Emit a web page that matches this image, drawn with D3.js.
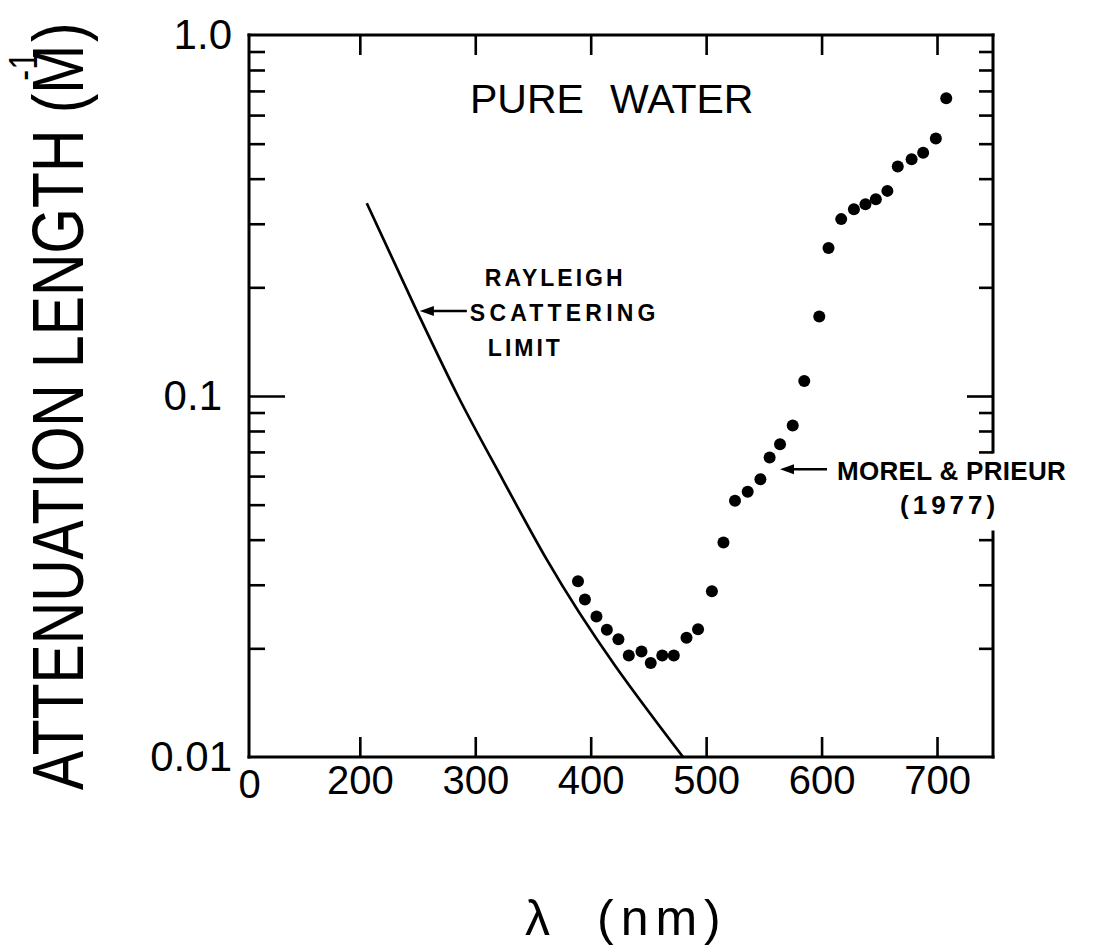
<!DOCTYPE html>
<html><head><meta charset="utf-8">
<script src="https://cdn.jsdelivr.net/npm/d3@7"></script>
<style>
html,body{margin:0;padding:0;background:#fff;}
svg{display:block;}
</style></head><body>
<svg id="chart" width="1101" height="946"></svg>
<script>
// ---- data ----
const morelWavelength = [389,395,405,414,424,433,444,452,462,472,483,493,505,515,525,536,547,555,564,575,585,598,606,617,628,638,647,657,666,678,688,699,708];
const morelAttenuation = [0.0307,0.0273,0.0245,0.0225,0.0212,0.0191,0.0196,0.0182,0.0191,0.0191,0.0214,0.0226,0.0288,0.0393,0.0513,0.0543,0.0588,0.0676,0.0735,0.0828,0.110,0.166,0.257,0.309,0.329,0.340,0.351,0.370,0.432,0.453,0.472,0.517,0.668];
const rayleighWavelength = [206,249,285,324,362,480];
const rayleighAttenuation = [0.342,0.173,0.100,0.0585,0.0352,0.0100];
const xDomain = [104, 748.5];
const yDomain = [0.01, 1];
const xTickValues = [200,300,400,500,600,700];
const xTickLabels = ["200","300","400","500","600","700"];
const xOriginLabel = "0";
const yTickValues = [0.01,0.1,1];
const yTickLabels = ["0.01","0.1","1.0"];
const yLabelPadding = [17,27,17];
const yMinorTicks = [0.02,0.03,0.04,0.05,0.06,0.07,0.08,0.09,0.2,0.3,0.4,0.5,0.6,0.7,0.8,0.9];
const rightAxisGap = [0.042, 0.07];   // right frame interrupted by the label text
const rayleighArrowAt = [252, 0.172];
const morelArrowAt = [564, 0.0627];

// ---- layout ----
const plot = {left:249, right:993, top:35, bottom:757};
const FONT = '"Liberation Sans", Arial, sans-serif';
const svg = d3.select("#chart");
svg.append("rect").attr("width",1101).attr("height",946).attr("fill","#fff");

const x = d3.scaleLinear().domain(xDomain).range([plot.left, plot.right]);
const y = d3.scaleLog().domain(yDomain).range([plot.bottom, plot.top]);

function styleAxis(g, fs){
  g.select(".domain").remove();
  g.attr("font-family", FONT).attr("font-size", fs || 40);
  g.selectAll(".tick line").attr("stroke","#000").attr("stroke-width",2.6);
  g.selectAll(".tick text").attr("fill","#000");
}

// bottom axis (ticks inward, labels below)
svg.append("g").attr("transform",`translate(0,${plot.bottom})`)
  .call(d3.axisBottom(x).tickValues(xTickValues).tickSizeInner(-20).tickSizeOuter(0).tickPadding(9)
        .tickFormat((d,i)=>xTickLabels[i]))
  .call(g=>styleAxis(g,40));
svg.append("g").attr("transform",`translate(0,${plot.bottom})`)
  .call(d3.axisBottom(x).tickValues([xDomain[0]]).tickSizeInner(0).tickSizeOuter(0).tickPadding(13)
        .tickFormat(()=>xOriginLabel))
  .call(g=>styleAxis(g,40));
// top axis
svg.append("g").attr("transform",`translate(0,${plot.top})`)
  .call(d3.axisTop(x).tickValues(xTickValues).tickSizeInner(-20).tickSizeOuter(0).tickFormat(()=>""))
  .call(g=>styleAxis(g));
// left axis labels
svg.append("g").attr("transform",`translate(${plot.left},0)`)
  .call(d3.axisLeft(y).tickValues(yTickValues).tickSizeInner(0).tickSizeOuter(0).tickPadding(17)
        .tickFormat((d,i)=>yTickLabels[i]))
  .call(g=>styleAxis(g,42))
  .call(g=>g.selectAll(".tick text").attr("x",(d,i)=>-yLabelPadding[i]));
// left ticks
svg.append("g").attr("transform",`translate(${plot.left},0)`)
  .call(d3.axisLeft(y).tickValues([0.1]).tickSizeInner(-36).tickSizeOuter(0).tickFormat(()=>""))
  .call(g=>styleAxis(g));
svg.append("g").attr("transform",`translate(${plot.left},0)`)
  .call(d3.axisLeft(y).tickValues(yMinorTicks).tickSizeInner(-16).tickSizeOuter(0).tickFormat(()=>""))
  .call(g=>styleAxis(g));
// right ticks
svg.append("g").attr("transform",`translate(${plot.right},0)`)
  .call(d3.axisRight(y).tickValues([0.1]).tickSizeInner(-26).tickSizeOuter(0).tickFormat(()=>""))
  .call(g=>styleAxis(g));
svg.append("g").attr("transform",`translate(${plot.right},0)`)
  .call(d3.axisRight(y).tickValues(yMinorTicks.filter(v=>v<rightAxisGap[0]||v>=rightAxisGap[1]))
        .tickSizeInner(-14).tickSizeOuter(0).tickFormat(()=>""))
  .call(g=>styleAxis(g));

// frame
const frame = svg.append("g").attr("stroke","#000").attr("stroke-width",3).attr("stroke-linecap","square");
frame.append("line").attr("x1",x(xDomain[0])).attr("x2",x(xDomain[1])).attr("y1",y(yDomain[1])).attr("y2",y(yDomain[1]));
frame.append("line").attr("x1",x(xDomain[0])).attr("x2",x(xDomain[1])).attr("y1",y(yDomain[0])).attr("y2",y(yDomain[0]));
frame.append("line").attr("x1",x(xDomain[0])).attr("x2",x(xDomain[0])).attr("y1",y(yDomain[0])).attr("y2",y(yDomain[1]));
frame.append("line").attr("x1",x(xDomain[1])).attr("x2",x(xDomain[1])).attr("y1",y(yDomain[1])).attr("y2",y(rightAxisGap[1]));
frame.append("line").attr("x1",x(xDomain[1])).attr("x2",x(xDomain[1])).attr("y1",y(rightAxisGap[0])).attr("y2",y(yDomain[0]));

// Rayleigh line
const rayleigh = rayleighWavelength.map((w,i)=>[w, rayleighAttenuation[i]]);
svg.append("path").datum(rayleigh)
  .attr("fill","none").attr("stroke","#000").attr("stroke-width",2.7)
  .attr("d", d3.line().x(d=>x(d[0])).y(d=>y(d[1])).curve(d3.curveMonotoneX));

// Morel & Prieur points
const morel = morelWavelength.map((w,i)=>[w, morelAttenuation[i]]);
svg.append("g").selectAll("circle").data(morel).join("circle")
  .attr("cx",d=>x(d[0])).attr("cy",d=>y(d[1])).attr("r",6).attr("fill","#000");

// annotations
function arrow(tipX, tipY, len){
  const g = svg.append("g");
  g.append("line").attr("x1",tipX+6).attr("x2",tipX+len).attr("y1",tipY).attr("y2",tipY)
    .attr("stroke","#000").attr("stroke-width",2.6);
  g.append("path").attr("d",`M${tipX},${tipY}L${tipX+14},${tipY-5}L${tipX+14},${tipY+5}Z`).attr("fill","#000");
}
const rTip = [x(rayleighArrowAt[0]), y(rayleighArrowAt[1])];
arrow(rTip[0], rTip[1], 47);
const mTip = [x(morelArrowAt[0]), y(morelArrowAt[1])];
arrow(mTip[0], mTip[1], 47);

const txt = svg.append("g").attr("font-family",FONT).attr("fill","#000");
const pw = txt.append("text").attr("font-size",41).attr("y",113);
pw.append("tspan").attr("x",470).text("PURE");
pw.append("tspan").attr("x",610).text("WATER");

txt.append("text").attr("x",rTip[0]+65).attr("y",rTip[1]-25).attr("font-size",23).attr("font-weight","bold").attr("letter-spacing",3).text("RAYLEIGH");
txt.append("text").attr("x",rTip[0]+50).attr("y",rTip[1]+10).attr("font-size",23).attr("font-weight","bold").attr("letter-spacing",4.2).text("SCATTERING");
txt.append("text").attr("x",rTip[0]+68).attr("y",rTip[1]+45).attr("font-size",23).attr("font-weight","bold").attr("letter-spacing",3).text("LIMIT");

txt.append("text").attr("x",mTip[0]+57).attr("y",mTip[1]+11).attr("font-size",26).attr("font-weight","bold").attr("letter-spacing",0.3).text("MOREL & PRIEUR");
txt.append("text").attr("x",mTip[0]+120).attr("y",mTip[1]+45).attr("font-size",26).attr("font-weight","bold").attr("letter-spacing",4).text("(1977)");

// axis titles
const yt = txt.append("text").attr("font-size",72)
  .attr("transform","translate(83,790) rotate(-90) scale(0.816,1)");
yt.append("tspan").text("ATTENUATION LENGTH (M");
yt.append("tspan").attr("font-size",40).attr("dx",-44).attr("dy",-46).text("-1");
yt.append("tspan").attr("dy",46).attr("dx",12).text(")");

const xt = txt.append("text").attr("font-size",50).attr("y",935);
xt.append("tspan").attr("x",525).text("λ");
xt.append("tspan").attr("x",597).attr("letter-spacing",7).text("(nm)");
</script>
</body></html>
